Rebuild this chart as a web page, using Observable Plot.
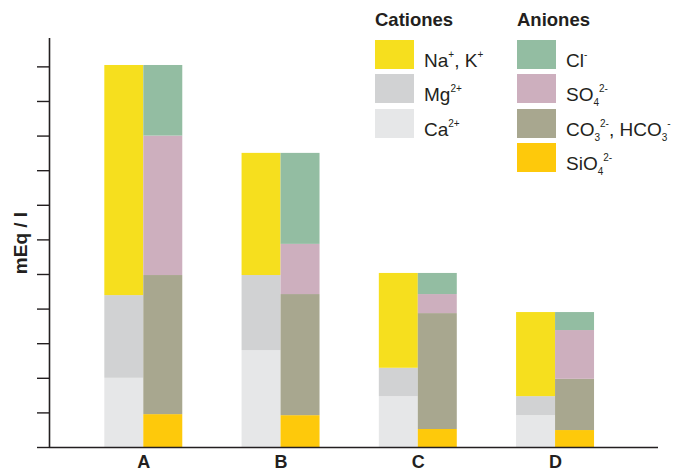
<!DOCTYPE html>
<html>
<head>
<meta charset="utf-8">
<script src="https://cdn.jsdelivr.net/npm/d3@7"></script>
<script src="https://cdn.jsdelivr.net/npm/@observablehq/plot@0.6"></script>
<style>
  body { margin: 0; background: #fff; font-family: "Liberation Sans", Arial, sans-serif; }
  #wrap { position: relative; width: 678px; height: 472px; }
  .legend { position: absolute; top: 0; color: #231f20; }
  .legend h3 { margin: 0; font-size: 18.5px; font-weight: bold; position: absolute; top: 9px; left: 0; white-space: nowrap; }
  .item { position: absolute; left: 0; height: 29px; white-space: nowrap; }
  .sw { position: absolute; left: 0; top: 0; width: 39px; height: 29px; }
  .lab { position: absolute; left: 49px; top: 4px; font-size: 19px; line-height: 22px; color: #231f20; }
  .lab sup { font-size: 10px; vertical-align: 9px; }
  .lab sub { font-size: 10px; vertical-align: -5px; }
</style>
</head>
<body>
<div id="wrap"></div>
<script>
const groups = ["A", "B", "C", "D"];
// cations (mEq/l), bottom to top
const ca  = [2.00, 2.80, 1.47, 0.92];
const mg  = [2.39, 2.17, 0.82, 0.55];
const naK = [6.65, 3.53, 2.74, 2.43];
// anions (mEq/l), bottom to top
const sio4 = [0.95, 0.92, 0.52, 0.49];
const co3  = [4.02, 3.50, 3.35, 1.48];
const so4  = [4.03, 1.45, 0.55, 1.41];
const cl   = [2.04, 2.63, 0.61, 0.52];

const cationSeries = [["Ca", ca], ["Mg", mg], ["NaK", naK]];
const anionSeries = [["SiO4", sio4], ["CO3", co3], ["SO4", so4], ["Cl", cl]];
const colors = {
  Ca: "#e6e7e8", Mg: "#d1d2d3", NaK: "#f6df1e",
  SiO4: "#fec90b", CO3: "#a8a78f", SO4: "#cdafbe", Cl: "#93bda2"
};

const half = 0.284;
const rows = [];
groups.forEach((g, i) => {
  let acc = 0;
  for (const [ion, vals] of cationSeries) {
    rows.push({i, side: "c", ion, y1: acc, y2: acc + vals[i]});
    acc += vals[i];
  }
  acc = 0;
  for (const [ion, vals] of anionSeries) {
    rows.push({i, side: "a", ion, y1: acc, y2: acc + vals[i]});
    acc += vals[i];
  }
});

const xDomain = [-0.687, 3.75];
const plot = Plot.plot({
  width: 678,
  height: 472,
  marginLeft: 49,
  marginRight: 20,
  marginTop: 38,
  marginBottom: 25,
  x: {domain: xDomain, axis: null},
  y: {domain: [0, 11.82], axis: null},
  style: {fontFamily: "Liberation Sans, Arial, sans-serif", color: "#231f20"},
  marks: [
    Plot.rect(rows, {
      x1: d => d.side === "c" ? d.i - half : d.i,
      x2: d => d.side === "c" ? d.i : d.i + half,
      y1: "y1", y2: "y2",
      fill: d => colors[d.ion]
    }),
    Plot.axisY({ticks: d3.range(0, 12), tickSize: 12, tickFormat: () => "", stroke: "#231f20", strokeWidth: 1.4, label: null}),
    Plot.axisY({ticks: [], label: "mEq / l", labelAnchor: "center", labelArrow: "none", labelOffset: 36, fontSize: 19, fontWeight: "bold"}),
    Plot.ruleX([xDomain[0]], {stroke: "#231f20", strokeWidth: 1.6}),
    Plot.ruleY([0], {stroke: "#231f20", strokeWidth: 1.6}),
    Plot.axisX({ticks: [0, 1, 2, 3], tickFormat: i => groups[i], tickSize: 0, tickPadding: 8, fontSize: 18, fontWeight: "bold", label: null})
  ]
});

const wrap = document.getElementById("wrap");
wrap.appendChild(plot);

const cationLegend = [
  ["NaK", "Na<sup>+</sup>, K<sup>+</sup>"],
  ["Mg", "Mg<sup>2+</sup>"],
  ["Ca", "Ca<sup>2+</sup>"]
];
const anionLegend = [
  ["Cl", "Cl<sup>-</sup>"],
  ["SO4", "SO<sub>4</sub><sup>2-</sup>"],
  ["CO3", "CO<sub>3</sub><sup>2-</sup>, HCO<sub>3</sub><sup>-</sup>"],
  ["SiO4", "SiO<sub>4</sub><sup>2-</sup>"]
];
function legend(left, title, items) {
  const div = document.createElement("div");
  div.className = "legend";
  div.style.left = left + "px";
  let html = `<h3>${title}</h3>`;
  items.forEach(([ion, label], k) => {
    html += `<div class="item" style="top:${40 + k * 34.3}px"><div class="sw" style="background:${colors[ion]}"></div><div class="lab">${label}</div></div>`;
  });
  div.innerHTML = html;
  wrap.appendChild(div);
}
legend(375, "Cationes", cationLegend);
legend(517, "Aniones", anionLegend);
</script>
</body>
</html>
